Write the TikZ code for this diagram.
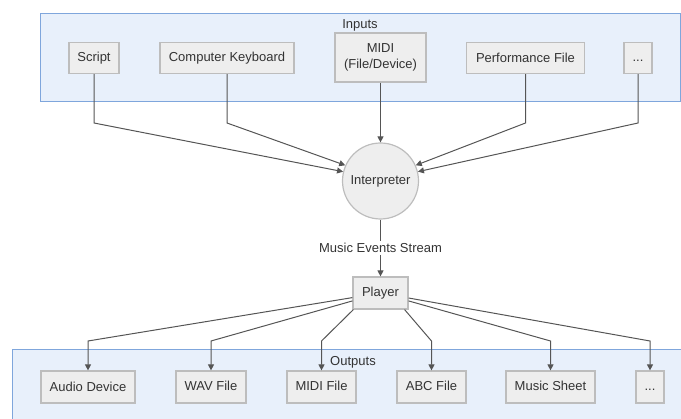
\documentclass[tikz,border=0pt]{standalone}
\usepackage{fontspec}
\setmainfont{Liberation Sans}
\usetikzlibrary{arrows.meta}
\definecolor{grpfill}{HTML}{E8F0FB}
\definecolor{grpline}{HTML}{7FA6DC}
\definecolor{boxfill}{HTML}{EEEEEE}
\definecolor{boxline}{HTML}{BDBDBD}
\definecolor{edgecol}{HTML}{555555}
\definecolor{txt}{HTML}{333333}
\begin{document}
\begin{tikzpicture}[x=1pt,y=-1pt,
  every node/.style={font=\fontsize{13}{15.5}\selectfont, text=txt},
  unit/.style={draw=boxline, fill=boxfill, line width=1.2pt, inner sep=0pt,
               minimum height=31pt, align=center},
  group/.style={draw=grpline, fill=grpfill, line width=1pt},
  flow/.style={draw=edgecol, line width=1pt, -{Triangle[length=6pt,width=6pt]}},
  ]
\useasboundingbox (0,0) rectangle (681,419);

% group frames
\begin{scope}
  \clip (0,0) rectangle (681,419);
  \draw[group] (40,14) rectangle (680,102);
  \draw[group] (12,350) rectangle (690,430);
\end{scope}
\node (inlabel) at (360,25) {Inputs};
\node (outlabel) at (353,362) {Outputs};

% input sources
\node[unit, minimum width=50pt]  (script)   at (94,58)    {Script};
\node[unit, minimum width=134pt] (keyboard) at (227,58)   {Computer Keyboard};
\node[unit, minimum width=91pt, minimum height=49pt] (midi) at (380.5,57.5) {MIDI\\(File/Device)};
\node[unit, minimum width=118pt] (perf)     at (525.5,58) {Performance File};
\node[unit, minimum width=28pt]  (moreIn)   at (638,58)   {\vphantom{Sp}...};

% interpreter and player
\node[circle, draw=boxline, fill=boxfill, line width=1.2pt, inner sep=0pt,
      minimum size=76pt] (interp) at (380.5,181) {\vphantom{Ip}Interpreter};
\node[unit, minimum width=55pt, minimum height=32pt] (player) at (380.5,293) {Player};

% output targets
\node[unit, minimum width=94pt, minimum height=32pt] (audio)    at (88,387)    {Audio Device};
\node[unit, minimum width=70pt, minimum height=32pt] (wav)      at (211,387)   {\vphantom{Wp}WAV File};
\node[unit, minimum width=69pt, minimum height=32pt] (midifile) at (321.5,387) {\vphantom{Mp}MIDI File};
\node[unit, minimum width=69pt, minimum height=32pt] (abc)      at (431.5,387) {\vphantom{Ap}ABC File};
\node[unit, minimum width=89pt, minimum height=32pt] (sheet)    at (550.5,387) {\vphantom{Mp}Music Sheet};
\node[unit, minimum width=28pt, minimum height=32pt] (moreOut)  at (650,387)   {\vphantom{Sp}...};

% routing rails
\coordinate (toprail) at (0,123);
\coordinate (botrail) at (0,341);

% inputs -> interpreter
\draw[flow] (script.south)   -- (script.south |- toprail)   -- (interp.166);
\draw[flow] (keyboard.south) -- (keyboard.south |- toprail) -- (interp.156);
\draw[flow] (midi) -- (interp);
\draw[flow] (perf.south)     -- (perf.south |- toprail)     -- (interp.24);
\draw[flow] (moreIn.south)   -- (moreIn.south |- toprail)   -- (interp.14);

% interpreter -> player
\draw[flow] (interp) -- node[fill=white, inner sep=2pt] (stream) {Music Events Stream} (player);

% player -> outputs
\draw[flow] (player) -- (audio.north |- botrail) -- (audio.north);
\draw[flow] (player) -- (wav.north |- botrail) -- (wav.north);
\draw[flow] ([xshift=1pt]player.south west) -- (midifile.north |- botrail) -- (midifile.north);
\draw[flow] ([xshift=-4pt]player.south east) -- (abc.north |- botrail) -- (abc.north);
\draw[flow] (player) -- (sheet.north |- botrail) -- (sheet.north);
\draw[flow] (player) -- (moreOut.north |- botrail) -- (moreOut.north);
\end{tikzpicture}
\end{document}
